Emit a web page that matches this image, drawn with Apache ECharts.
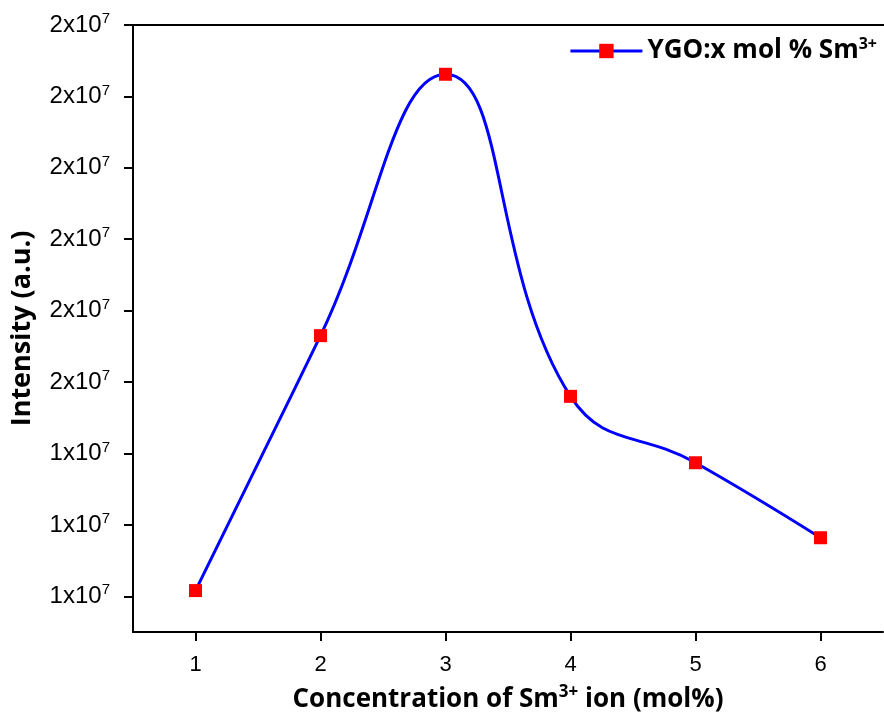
<!DOCTYPE html>
<html>
<head>
<meta charset="utf-8">
<script src="https://cdn.jsdelivr.net/npm/echarts@6/dist/echarts.min.js"></script>
<style>
  html, body { margin: 0; padding: 0; background: #fff; }
  #main { width: 884px; height: 714px; }
</style>
</head>
<body>
<div id="main"></div>
<script>
// concentration of Sm3+ (mol%)
var concentration = [1, 2, 3, 4, 5, 6];
// emission intensity (a.u.)
var intensity = [1.208e7, 1.565e7, 1.931e7, 1.48e7, 1.387e7, 1.282e7];
// tick positions on the axes
var yTicks = [1.2e7, 1.3e7, 1.4e7, 1.5e7, 1.6e7, 1.7e7, 1.8e7, 1.9e7, 2.0e7];
var xTicks = [1, 2, 3, 4, 5, 6];

var myChart = echarts.init(document.getElementById('main'));

var option = {
  animation: false,
  backgroundColor: '#fff',
  grid: { left: 133, right: 1, top: 25, bottom: 82, outerBoundsMode: 'none' },
  legend: {
    right: 2,
    top: 31,
    itemWidth: 72,
    itemHeight: 18,
    itemGap: 6,
    lineStyle: { width: 3, color: '#0000ff' },
    formatter: function () { return '{a|YGO:x mol % Sm}{s|3+}'; },
    textStyle: {
      rich: {
        a: { fontFamily: 'Open Sans', fontWeight: 'bold', fontSize: 26, color: '#000' },
        s: { fontFamily: 'Open Sans', fontWeight: 'bold', fontSize: 16, color: '#000', verticalAlign: 'bottom', padding: [0, 0, 14, 0] }
      }
    },
    data: ['YGO:x mol % Sm3+']
  },
  xAxis: {
    type: 'value',
    min: 0.5,
    max: 6.5,
    name: '{a|Concentration of Sm}{s|3+}{a| ion (mol%)}',
    nameLocation: 'middle',
    nameGap: 52,
    nameTextStyle: {
      rich: {
        a: { fontFamily: 'Open Sans', fontWeight: 'bold', fontSize: 26, color: '#000' },
        s: { fontFamily: 'Open Sans', fontWeight: 'bold', fontSize: 17, color: '#000', verticalAlign: 'bottom', padding: [0, 0, 14, 0] }
      }
    },
    axisLine: { show: true, onZero: false, lineStyle: { color: '#000', width: 2 } },
    axisTick: { show: true, length: 9, lineStyle: { color: '#000', width: 2 }, customValues: xTicks },
    axisLabel: { fontFamily: 'Liberation Sans', fontSize: 22, color: '#000', margin: 22, customValues: xTicks },
    splitLine: { show: false }
  },
  yAxis: {
    type: 'value',
    min: 1.15e7,
    max: 2.0e7,
    name: 'Intensity (a.u.)',
    nameLocation: 'middle',
    nameGap: 97,
    nameTextStyle: { fontFamily: 'Open Sans', fontWeight: 'bold', fontSize: 27, color: '#000' },
    axisLine: { show: true, onZero: false, lineStyle: { color: '#000', width: 2 } },
    axisTick: { show: true, length: 9, lineStyle: { color: '#000', width: 2 }, customValues: yTicks },
    axisLabel: {
      margin: 23,
      customValues: yTicks,
      formatter: function (v) { return '{a|' + Math.round(v / 1e7) + 'x10}{s|7}'; },
      rich: {
        a: { fontFamily: 'Liberation Sans', fontSize: 24, color: '#000' },
        s: { fontFamily: 'Liberation Sans', fontSize: 15, color: '#000', verticalAlign: 'bottom', padding: [0, 0, 12, 0] }
      }
    },
    splitLine: { show: false }
  },
  series: [{
    name: 'YGO:x mol % Sm3+',
    type: 'line',
    smooth: 0.45,
    data: concentration.map(function (c, i) { return [c, intensity[i]]; }),
    lineStyle: { color: '#0000ff', width: 3 },
    itemStyle: { color: '#ff0000' },
    symbol: 'rect',
    symbolSize: 13
  }],
  graphic: [
    // top frame line
    { type: 'line', shape: { x1: 133, y1: 25, x2: 884, y2: 25 }, style: { stroke: '#000', lineWidth: 2 } }
  ]
};

myChart.setOption(option);
</script>
</body>
</html>
